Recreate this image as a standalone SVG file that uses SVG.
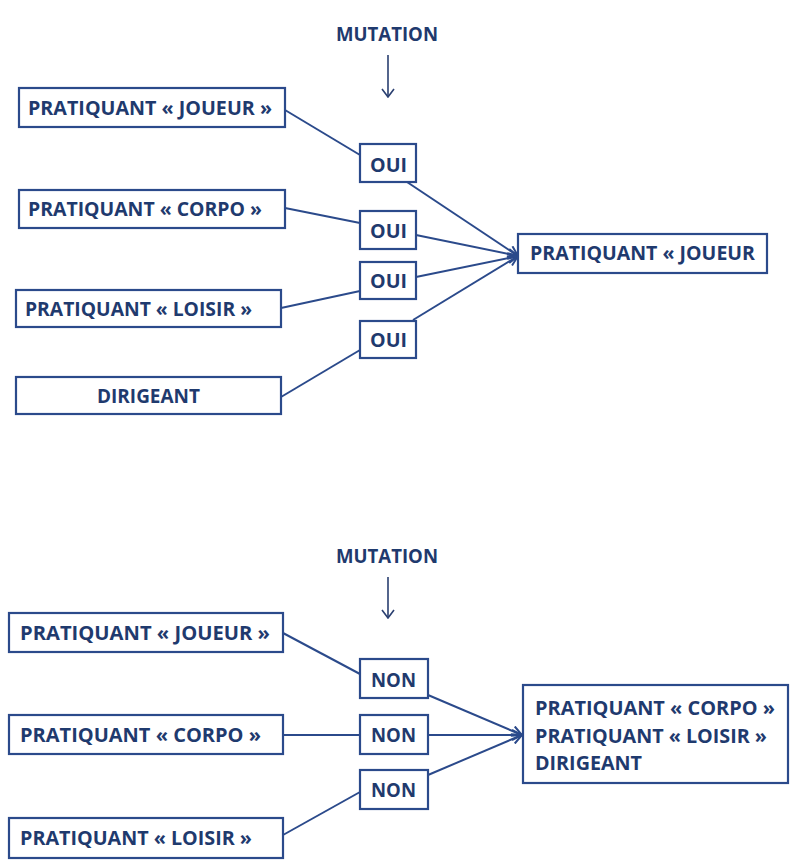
<svg xmlns="http://www.w3.org/2000/svg" width="795" height="865" viewBox="0 0 795 865">
<defs>
<style>
.box{fill:#fff;stroke:#2b4a8b;stroke-width:2.2}
.t{font-family:"Open Sans","Liberation Sans",sans-serif;font-weight:bold;font-size:19px;fill:#1f3a6e}
.c{fill:none;stroke:#2b4a8b;stroke-width:2}
.m{fill:none;stroke:#2a3f70;stroke-width:1.6}
</style>
<marker id="ah" viewBox="0 0 12 12" refX="11" refY="6" markerWidth="12" markerHeight="12" markerUnits="userSpaceOnUse" orient="auto">
<path d="M1,1 L11,6 L1,11" fill="none" stroke="#2b4a8b" stroke-width="2"/>
</marker>
<marker id="dn" viewBox="0 0 14 14" refX="13" refY="7" markerWidth="14" markerHeight="14" markerUnits="userSpaceOnUse" orient="auto">
<path d="M5,1 L13,7 L5,13" fill="none" stroke="#2a3f70" stroke-width="1.6"/>
</marker>
</defs>
<rect width="795" height="865" fill="#fff"/>

<g id="connectors">
<line class="m" x1="388" y1="55" x2="388" y2="97" marker-end="url(#dn)"/>
<line class="c" x1="285" y1="110" x2="360" y2="155"/>
<line class="c" x1="285" y1="208" x2="360" y2="223"/>
<line class="c" x1="281" y1="308" x2="360" y2="291"/>
<line class="c" x1="281" y1="397" x2="360" y2="350"/>
<line class="c" x1="407" y1="182" x2="518" y2="256" marker-end="url(#ah)"/>
<line class="c" x1="416" y1="235" x2="518" y2="256" marker-end="url(#ah)"/>
<line class="c" x1="416" y1="277" x2="518" y2="256" marker-end="url(#ah)"/>
<line class="c" x1="413" y1="320" x2="518" y2="256" marker-end="url(#ah)"/>

<line class="m" x1="388" y1="577" x2="388" y2="618" marker-end="url(#dn)"/>
<line class="c" x1="283" y1="633" x2="360" y2="674"/>
<line class="c" x1="283" y1="735" x2="360" y2="735"/>
<line class="c" x1="283" y1="835" x2="360" y2="792"/>
<line class="c" x1="428" y1="695" x2="522" y2="735" marker-end="url(#ah)"/>
<line class="c" x1="428" y1="735" x2="522" y2="735" marker-end="url(#ah)"/>
<line class="c" x1="428" y1="775" x2="522" y2="735" marker-end="url(#ah)"/>
</g>

<g id="mutation1"><text class="t" x="336" y="41" textLength="102" lengthAdjust="spacingAndGlyphs">MUTATION</text></g>
<g id="joueur1"><rect class="box" x="19" y="88" width="266" height="39"/><text class="t" x="28" y="115" textLength="244" lengthAdjust="spacingAndGlyphs">PRATIQUANT « JOUEUR »</text></g>
<g id="corpo1"><rect class="box" x="19" y="190" width="266" height="38"/><text class="t" x="28" y="216" textLength="234" lengthAdjust="spacingAndGlyphs">PRATIQUANT « CORPO »</text></g>
<g id="loisir1"><rect class="box" x="16" y="290" width="265" height="37"/><text class="t" x="25" y="316" textLength="227" lengthAdjust="spacingAndGlyphs">PRATIQUANT « LOISIR »</text></g>
<g id="dirigeant1"><rect class="box" x="16" y="377" width="265" height="37"/><text class="t" x="97" y="403" textLength="103" lengthAdjust="spacingAndGlyphs">DIRIGEANT</text></g>
<g id="oui1"><rect class="box" x="360" y="144" width="56" height="38"/><text class="t" x="370" y="172" textLength="37" lengthAdjust="spacingAndGlyphs">OUI</text></g>
<g id="oui2"><rect class="box" x="360" y="211" width="56" height="38"/><text class="t" x="370" y="238" textLength="37" lengthAdjust="spacingAndGlyphs">OUI</text></g>
<g id="oui3"><rect class="box" x="360" y="262" width="56" height="37"/><text class="t" x="370" y="288" textLength="37" lengthAdjust="spacingAndGlyphs">OUI</text></g>
<g id="oui4"><rect class="box" x="360" y="321" width="56" height="37"/><text class="t" x="370" y="347" textLength="37" lengthAdjust="spacingAndGlyphs">OUI</text></g>
<g id="target1"><rect class="box" x="518" y="234" width="249" height="39"/><text class="t" x="530" y="260" textLength="225" lengthAdjust="spacingAndGlyphs">PRATIQUANT « JOUEUR</text></g>

<g id="mutation2"><text class="t" x="336" y="563" textLength="102" lengthAdjust="spacingAndGlyphs">MUTATION</text></g>
<g id="joueur2"><rect class="box" x="9" y="613" width="274" height="39"/><text class="t" x="20" y="640" textLength="250" lengthAdjust="spacingAndGlyphs">PRATIQUANT « JOUEUR »</text></g>
<g id="corpo2"><rect class="box" x="9" y="715" width="274" height="39"/><text class="t" x="20" y="742" textLength="241" lengthAdjust="spacingAndGlyphs">PRATIQUANT « CORPO »</text></g>
<g id="loisir2"><rect class="box" x="9" y="818" width="274" height="40"/><text class="t" x="20" y="845" textLength="232" lengthAdjust="spacingAndGlyphs">PRATIQUANT « LOISIR »</text></g>
<g id="non1"><rect class="box" x="360" y="659" width="68" height="39"/><text class="t" x="371" y="687" textLength="45" lengthAdjust="spacingAndGlyphs">NON</text></g>
<g id="non2"><rect class="box" x="360" y="715" width="68" height="39"/><text class="t" x="371" y="742" textLength="45" lengthAdjust="spacingAndGlyphs">NON</text></g>
<g id="non3"><rect class="box" x="360" y="770" width="68" height="39"/><text class="t" x="371" y="797" textLength="45" lengthAdjust="spacingAndGlyphs">NON</text></g>
<g id="target2"><rect class="box" x="523" y="685" width="265" height="98"/>
<text class="t" x="535" y="715" textLength="240" lengthAdjust="spacingAndGlyphs">PRATIQUANT « CORPO »</text>
<text class="t" x="535" y="743" textLength="232" lengthAdjust="spacingAndGlyphs">PRATIQUANT « LOISIR »</text>
<text class="t" x="535" y="770" textLength="107" lengthAdjust="spacingAndGlyphs">DIRIGEANT</text></g>
</svg>
